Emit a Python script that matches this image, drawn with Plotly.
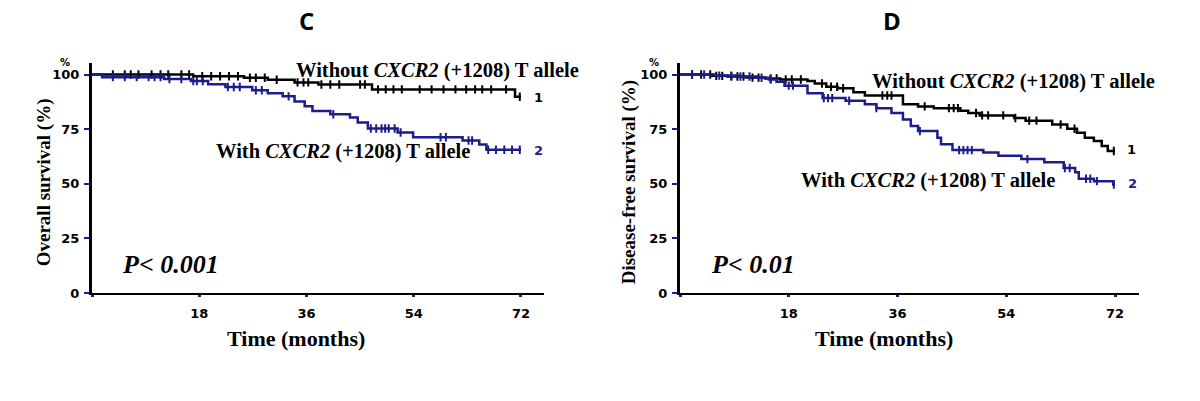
import plotly.graph_objects as go
from bisect import bisect_right

W, H = 1200, 401

# Panel C - overall survival (step times in months, survival in %)
c_without_t = [0, 17.0, 25.5, 29.5, 34.0, 38.0, 47.0, 71.0]
c_without_s = [100, 99.2, 98.5, 97.6, 96.4, 95.4, 93.2, 89.8]
c_without_cens = [3.5, 5.5, 6.5, 7.8, 10, 11.5, 12.8, 15, 16.3, 18.5, 20, 21.5, 23, 24.5,
                  26.5, 27.5, 29, 31, 34.5, 35.5, 36.3, 38.5, 40, 41.5, 45, 45.8, 48, 49.3,
                  50.6, 52, 55, 57, 59, 61, 62.8, 64.3, 65.5, 67, 69.5, 71.8]

c_with_t = [0, 1.7, 12.1, 16.6, 19.5, 22.4, 26.9, 29.5, 32.0, 34.0, 35.7, 37.0, 40.0,
            43.3, 44.6, 46.3, 51.3, 53.9, 62.2, 65.0, 66.2]
c_with_s = [100, 98.8, 97.9, 97.0, 95.6, 94.3, 92.8, 91.4, 90.0, 87.7, 85.5, 83.3, 81.8,
            80.3, 78.0, 75.3, 73.5, 71.3, 69.8, 68.0, 65.6]
c_with_cens = [3.5, 5.5, 7.5, 9.5, 10.5, 11.5, 13, 15, 17, 17.6, 18.6, 22.8, 23.8, 24.8,
               27.5, 28.5, 33, 40.5, 46.8, 47.7, 48.6, 49.2, 49.8, 50.8, 51.8, 58.5, 59.4,
               63.2, 63.8, 66.5, 67.8, 69.2, 70.5, 71.8]

# Panel D - disease-free survival
d_without_t = [0, 5.3, 7.8, 10.9, 14.1, 16.6, 21.1, 22.3, 24.2, 26.1, 28.7, 30.6, 36.9,
               39.4, 42.0, 46.4, 47.7, 49.6, 55.3, 57.2, 61.6, 64.1, 65.7, 67.0, 68.5,
               69.8, 70.8]
d_without_s = [100, 99.4, 99.1, 98.6, 98.2, 97.7, 97.0, 95.9, 94.4, 93.7, 91.9, 90.4, 86.4,
               85.4, 84.6, 83.4, 82.4, 81.3, 80.1, 78.9, 77.1, 75.2, 73.3, 71.1, 69.6,
               67.3, 65.0]
d_without_cens = [2, 3.5, 5, 6, 7, 8.5, 9.5, 10.5, 12, 13, 15, 16, 17.5, 18.5, 20, 23.5,
                  25, 26, 27, 33.5, 34.3, 35, 40.5, 44.5, 45.3, 46, 49, 50, 51, 53.5, 55.5,
                  57.8, 59, 63, 65.3, 71.8]

d_with_t = [0, 5.9, 9.7, 12.8, 14.7, 16.0, 17.3, 21.1, 23.6, 27.4, 30.6, 32.5, 35.0, 36.9,
            38.2, 39.4, 42.6, 43.2, 45.1, 50.2, 52.7, 56.5, 60.3, 63.5, 65.4, 66.0, 68.5,
            71.7]
d_with_s = [100, 99.5, 99.1, 98.5, 97.7, 96.7, 94.9, 91.4, 89.2, 88.0, 86.4, 84.6, 82.4,
            79.4, 76.4, 74.1, 71.1, 68.1, 65.4, 64.3, 62.8, 61.3, 59.8, 57.2, 55.3, 52.3,
            51.2, 49.7]
d_with_cens = [2, 4, 6.5, 8.5, 10, 11.5, 13.5, 15, 18, 18.7, 23.8, 24.5, 25.2, 28, 32.5,
               39.7, 46.2, 46.9, 47.6, 48.3, 57.5, 63.7, 64.5, 67.2, 67.9, 69, 71.8]

end_month = 72
y_ticks = [0, 25, 50, 75, 100]
x_ticks = [0, 18, 36, 54, 72]
x_tick_text = ["", "18", "36", "54", "72"]

BLACK = "#000000"
NAVY = "#1c1c8c"
SERIF = "Liberation Serif"


def surv_at(times, surv, t):
    return surv[bisect_right(times, t) - 1]


def px(x):
    # page pixel -> paper fraction
    return x / W


def py(y):
    return 1 - y / H


fig = go.Figure()


def add_curve(times, surv, cens, color, xa, ya):
    fig.add_trace(go.Scatter(
        x=times + [end_month], y=surv + [surv[-1]],
        mode="lines", line=dict(color=color, width=2.5, shape="hv"),
        xaxis=xa, yaxis=ya, showlegend=False, hoverinfo="skip"
    ))
    fig.add_trace(go.Scatter(
        x=cens, y=[surv_at(times, surv, t) for t in cens],
        mode="markers",
        marker=dict(symbol="line-ns", size=6, line=dict(color=color, width=2)),
        xaxis=xa, yaxis=ya, showlegend=False, hoverinfo="skip"
    ))


add_curve(c_without_t, c_without_s, c_without_cens, BLACK, "x", "y")
add_curve(c_with_t, c_with_s, c_with_cens, NAVY, "x", "y")
add_curve(d_without_t, d_without_s, d_without_cens, BLACK, "x2", "y2")
add_curve(d_with_t, d_with_s, d_with_cens, NAVY, "x2", "y2")

tick_font = dict(family="DejaVu Sans", size=13, color="black")
ydom = [py(299), py(64)]

xaxis_common = dict(
    tickvals=x_ticks, ticktext=["<b>%s</b>" % t for t in x_tick_text],
    showline=True, linecolor="black", linewidth=2,
    ticks="outside", ticklen=2, tickwidth=3, tickcolor=NAVY,
    ticklabelstandoff=5,
    showgrid=False, zeroline=False, tickfont=tick_font, fixedrange=True
)
yaxis_common = dict(
    range=[0, 105.4], domain=ydom, tickvals=y_ticks,
    ticktext=["<b>%d</b>" % t for t in y_ticks],
    showline=True, linecolor="black", linewidth=3,
    ticks="outside", ticklen=5, tickwidth=2, tickcolor=NAVY,
    ticklabelstandoff=2,
    showgrid=False, zeroline=False, tickfont=tick_font, fixedrange=True
)

fig.update_layout(
    width=W, height=H,
    margin=dict(l=0, r=0, t=0, b=0),
    paper_bgcolor="white", plot_bgcolor="white",
    xaxis=dict(xaxis_common, domain=[px(92), px(544)], anchor="y",
               range=[0, (544 - 92) / 5.958]),
    yaxis=dict(yaxis_common, anchor="x"),
    xaxis2=dict(xaxis_common, domain=[px(680), px(1139)], anchor="y2",
                range=[0, (1139 - 680) / 6.042]),
    yaxis2=dict(yaxis_common, anchor="x2"),
)


# text labels placed in page pixels
def note(text, x, y, size, family=SERIF, color="black", angle=0):
    fig.add_annotation(
        text=text, x=px(x), y=py(y), xref="paper", yref="paper",
        xanchor="center", yanchor="middle", showarrow=False, textangle=angle,
        font=dict(family=family, size=size, color=color)
    )


panels = [
    dict(letter="C", letter_x=306, ytitle="Overall survival (%)", ytitle_x=44,
         p="P< 0.001", p_x=171, wo_x=437, wo_y=72, w_x=343, w_y=155,
         n1=(538, 99), n2=(538, 154), pct_x=65, time_x=296),
    dict(letter="D", letter_x=892, ytitle="Disease-free survival (%)", ytitle_x=629,
         p="P< 0.01", p_x=753, wo_x=1013, wo_y=83, w_x=928, w_y=184,
         n1=(1131, 153), n2=(1132, 187), pct_x=654, time_x=884),
]

for p in panels:
    note("<b>" + p["letter"] + "</b>", p["letter_x"], 21, 24, family="Open Sans")
    note("<b>" + p["ytitle"] + "</b>", p["ytitle_x"], 186, 19, angle=-90)
    note("<b>Time (months)</b>", p["time_x"], 345, 22)
    note("<b><i>" + p["p"] + "</i></b>", p["p_x"], 270, 26)
    note("<b>Without <i>CXCR2</i> (+1208) T allele</b>", p["wo_x"], p["wo_y"], 20.5)
    note("<b>With <i>CXCR2</i> (+1208) T allele</b>", p["w_x"], p["w_y"], 20.5)
    note("<b>1</b>", p["n1"][0], p["n1"][1], 13, family="DejaVu Sans")
    note("<b>2</b>", p["n2"][0], p["n2"][1], 13, family="DejaVu Sans", color=NAVY)
    note("<b>%</b>", p["pct_x"], 64, 10, family="DejaVu Sans")

# drop the default 8px body margin so the figure sits at the page origin
fig.write_html("out.html", config={"displayModeBar": False},
               post_script="document.body.style.margin='0px';")
